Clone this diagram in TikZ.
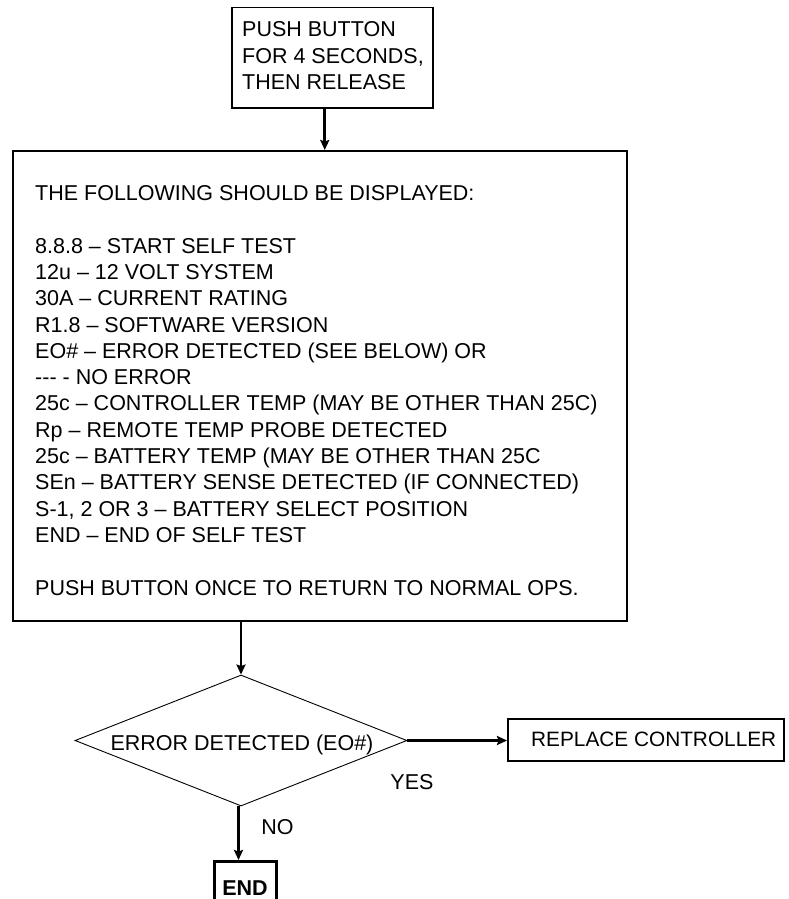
\documentclass[tikz,border=0pt]{standalone}
\usepackage{fontspec}
\setmainfont{Liberation Sans}
\usetikzlibrary{shapes.geometric,arrows.meta}
\begin{document}
\begin{tikzpicture}[x=1pt,y=-1pt,
  txt/.style={inner sep=0pt,anchor=base west,font=\fontsize{21.5pt}{26.3pt}\selectfont},
  ctxt/.style={inner sep=0pt,anchor=base,font=\fontsize{21.5pt}{26.3pt}\selectfont},
  boxshape/.style={draw,line width=1.5pt,rectangle,inner sep=0pt,anchor=north west},
  conn/.style={line width=2.7pt,-{Stealth[length=10pt,width=9pt,inset=1.5pt]}}]
\clip (0,0) rectangle (788,899);
\fill[white] (0,0) rectangle (788,899);
% top box
\node[boxshape,minimum width=201pt,minimum height=100pt] (top) at (231,7) {};
\node[txt] (t1) at (242,37) {PUSH BUTTON};
\node[txt] (t2) at (242,63.3) {FOR 4 SECONDS,};
\node[txt] (t3) at (242,89.6) {THEN RELEASE};
% big box
\node[boxshape,minimum width=614pt,minimum height=470pt] (big) at (12,150) {};
\foreach \i/\s in {0/{THE FOLLOWING SHOULD BE DISPLAYED:},
  2/{8.8.8 – START SELF TEST},
  3/{12u – 12 VOLT SYSTEM},
  4/{30A – CURRENT RATING},
  5/{R1.8 – SOFTWARE VERSION},
  6/{EO\# – ERROR DETECTED (SEE BELOW) OR},
  7/{-{}-{}- {-} NO ERROR},
  8/{25c – CONTROLLER TEMP (MAY BE OTHER THAN 25C)},
  9/{Rp – REMOTE TEMP PROBE DETECTED},
  10/{25c – BATTERY TEMP (MAY BE OTHER THAN 25C},
  11/{SEn – BATTERY SENSE DETECTED (IF CONNECTED)},
  12/{S-1, 2 OR 3 – BATTERY SELECT POSITION},
  13/{END – END OF SELF TEST},
  15/{PUSH BUTTON ONCE TO RETURN TO NORMAL OPS.}}
  \node[txt] (line\i) at (35,{200.5+\i*26.3}) {\s};
% diamond
\node[draw,diamond,line width=0.9pt,inner sep=0pt,minimum width=332pt,minimum height=131pt] (dia) at (241,740.5) {};
\node[ctxt] (diatext) at (242,750.7) {ERROR DETECTED (EO\#)};
% replace controller
\node[boxshape,minimum width=276pt,minimum height=42pt] (rep) at (507,718) {};
\node[txt,font=\fontsize{20.8pt}{26.3pt}\selectfont] (reptext) at (531,746.7) {REPLACE CONTROLLER};
% end box
\node[draw,line width=3pt,rectangle,inner sep=0pt,anchor=north west,minimum width=62.5pt,minimum height=60pt] (endbox) at (212.5,860) {};
\node[ctxt,font=\fontsize{21.5pt}{26.3pt}\selectfont\bfseries] (endtext) at (245,895) {END};
% labels
\node[ctxt] (yes) at (412,789.3) {YES};
\node[ctxt] (no) at (277.5,834) {NO};
% connectors
\draw[conn] ([xshift=-7.5pt]top.south) -- ([xshift=-7.5pt]top.south |- big.north);
\draw[conn] (dia.north |- big.south) -- (dia.north);
\draw[conn] (dia.east) -- (rep.west |- dia.east);
\draw[conn] ([xshift=-2.5pt]dia.south) -- ([xshift=-2.5pt]dia.south |- endbox.north);
\end{tikzpicture}
\end{document}
